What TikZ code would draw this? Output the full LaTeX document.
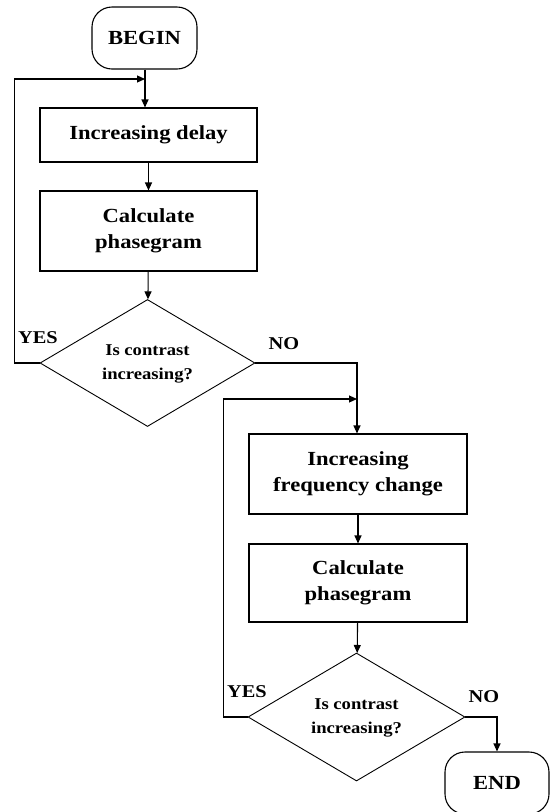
\documentclass[tikz,border=0pt]{standalone}
\usepackage{fontspec}
\setmainfont[FakeStretch=1.13]{Liberation Serif}
\usetikzlibrary{shapes.geometric}
\usetikzlibrary{arrows.meta}

\begin{document}
\begin{tikzpicture}[x=1pt, y=-1pt, >={Triangle[length=8pt,width=7pt]},
            box/.style={draw, black, line width=1.1pt, minimum width=217pt, inner sep=0pt, align=center, font=\fontsize{20}{26}\selectfont\bfseries},
            terminal/.style={box, rounded corners=20pt, minimum width=105pt, minimum height=62pt},
            decision/.style={draw, black, line width=0.9pt, diamond, aspect=1.7, inner sep=0pt, minimum width=215pt, minimum height=127pt, align=center, font=\fontsize{16.5}{24}\selectfont\bfseries},
            answer/.style={inner sep=0pt, font=\fontsize{18}{20}\selectfont\bfseries},
            flow/.style={->, black, line width=1.1pt}]
            \useasboundingbox (0,0) rectangle (550,812);
            % first loop: delay
            \node[terminal] (begin) at (144.5,38){BEGIN};
            \node[box, minimum height=54pt] (delay) at (148.5,135){Increasing delay};
            \node[box, minimum height=80pt] (phaseA) at (148.5,231){Calculate\\phasegram};
            \node[decision] (testA) at (147.5,363){\raisebox{9pt}{\begin{tabular}{@{}c@{}}Is contrast\\increasing?\end{tabular}}};
            \node[answer] (yesA) at (38,338){YES};
            \node[answer] (noA) at (284,344){NO};
            \coordinate (joinA) at (145,79);
            % second loop: frequency
            \node[box, minimum width=218pt, minimum height=80pt] (freq) at (358,474){Increasing\\frequency change};
            \node[box, minimum width=218pt, minimum height=78pt] (phaseB) at (358,583){Calculate\\phasegram};
            \node[decision, minimum width=217pt, minimum height=128pt] (testB) at (356.5,717){\raisebox{9pt}{\begin{tabular}{@{}c@{}}Is contrast\\increasing?\end{tabular}}};
            \node[answer] (yesB) at (247,692){YES};
            \node[answer] (noB) at (484,697){NO};
            \node[terminal, minimum width=104pt] (end) at (497,783){END};
            \coordinate (joinB) at (357,399);
            \draw[flow] (begin.south -| joinA) -- (joinA |- delay.north);
            \draw[flow] (testA.west) -- ++(-25,0) |- (joinA);
            \draw[flow] (delay) -- (phaseA);
            \draw[flow] (phaseA) -- (testA);
            \draw[flow] (testA.east) -| (freq.north -| joinB);
            \draw[flow] (testB.west) -- ++(-24,0) |- (joinB);
            \draw[flow] (freq) -- (phaseB);
            \draw[flow] (phaseB) -- (testB);
            \draw[flow] (testB.east) -| (end.north);
\end{tikzpicture}
\end{document}
